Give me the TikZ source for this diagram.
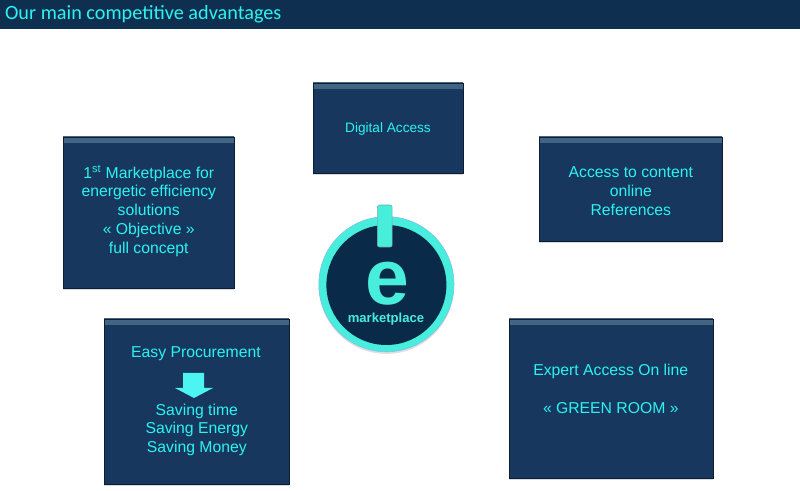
\documentclass[tikz,border=0pt]{standalone}
\usepackage{fontspec}
\setmainfont{Liberation Sans}
\newfontfamily\titlefont{Carlito}
\usetikzlibrary{shadows}
\definecolor{boxblue}{HTML}{17375E}
\definecolor{headblue}{HTML}{0F2F50}
\definecolor{bevelblue}{HTML}{456585}
\definecolor{discblue}{HTML}{0A2A4A}
\definecolor{textcyan}{HTML}{2CF3F0}
\definecolor{ringteal}{HTML}{47EEDB}
\tikzstyle{advbox} = [draw=black!45!boxblue, fill=boxblue, rectangle, inner sep=0pt,
    drop shadow={opacity=0.3, shadow xshift=0.3pt, shadow yshift=-1.2pt},
    path picture={\shade [top color=bevelblue, bottom color=boxblue]
      (path picture bounding box.north west) rectangle ([yshift=-4pt]path picture bounding box.north east);}]
\tikzstyle{advtext} = [text=textcyan, align=center, inner sep=0pt, font=\fontsize{11.2}{13.4}\selectfont]
\begin{document}
\begin{tikzpicture}
\useasboundingbox (0,0) rectangle (20,12.275);
\node [fill=headblue, minimum width=20cm, minimum height=0.725cm, inner sep=0pt] (header) at (10,11.9125) {};
\node [text=textcyan, inner sep=0pt, anchor=west, font=\titlefont\fontsize{14.4}{16}\selectfont] (title) at (0.12,11.93) {Our main competitive advantages};
% boxes
\node [advbox, minimum width=3.75cm, minimum height=2.25cm] (digital) at (9.7,9.075) {};
\node [advtext, font=\fontsize{9.7}{12}\selectfont] (digitaltext) at (9.7,9.04) {Digital Access};
\node [advbox, minimum width=4.275cm, minimum height=3.775cm] (first) at (3.7125,6.9625) {};
\node [advtext] (firsttext) at (3.72,7.0) {1\textsuperscript{st} Marketplace for\\energetic efficiency\\solutions\\« Objective »\\full concept};
\node [advbox, minimum width=4.575cm, minimum height=2.6cm] (content) at (15.7625,7.55) {};
\node [advtext] (contenttext) at (15.77,7.5) {Access to content\\online\\References};
\node [advbox, minimum width=4.625cm, minimum height=4.125cm] (easy) at (4.9125,2.2375) {};
\node [advtext] (easytop) at (4.9,3.43) {Easy Procurement};
\fill [textcyan!85!white] (4.575,2.95) -- (5.1,2.95) -- (5.1,2.575) -- (5.325,2.575) -- (4.85,2.325) -- (4.375,2.575) -- (4.575,2.575) -- cycle;
\node [advtext] (easybottom) at (4.92,1.53) {Saving time\\Saving Energy\\Saving Money};
\node [advbox, minimum width=5.1cm, minimum height=3.975cm] (expert) at (15.275,2.3125) {};
\node [advtext] (experttext) at (15.27,2.55) {Expert Access On line\\[13.4pt]« GREEN ROOM »};
% logo
\node [circle, fill=ringteal, draw=ringteal!60!blue!60, minimum size=3.38cm, inner sep=0pt,
  drop shadow={opacity=0.25, shadow xshift=0pt, shadow yshift=-1.5pt}] (ring) at (9.66,5.17) {};
\node [circle, fill=discblue, minimum size=3cm, inner sep=0pt] (disc) at (9.66,5.15) {};
\node [fill=ringteal, draw=ringteal!50!black!60, rounded corners=1.5pt, minimum width=0.37cm, minimum height=1.05cm, inner sep=0pt] (bar) at (9.62,6.625) {};
\node [text=ringteal, inner sep=0pt, font=\bfseries\fontsize{56}{56}\selectfont] (letter) at (9.68,5.18) {e};
\node [text=ringteal, inner sep=0pt, font=\bfseries\fontsize{9.3}{11}\selectfont] (word) at (9.65,4.3) {marketplace};
\end{tikzpicture}
\end{document}
